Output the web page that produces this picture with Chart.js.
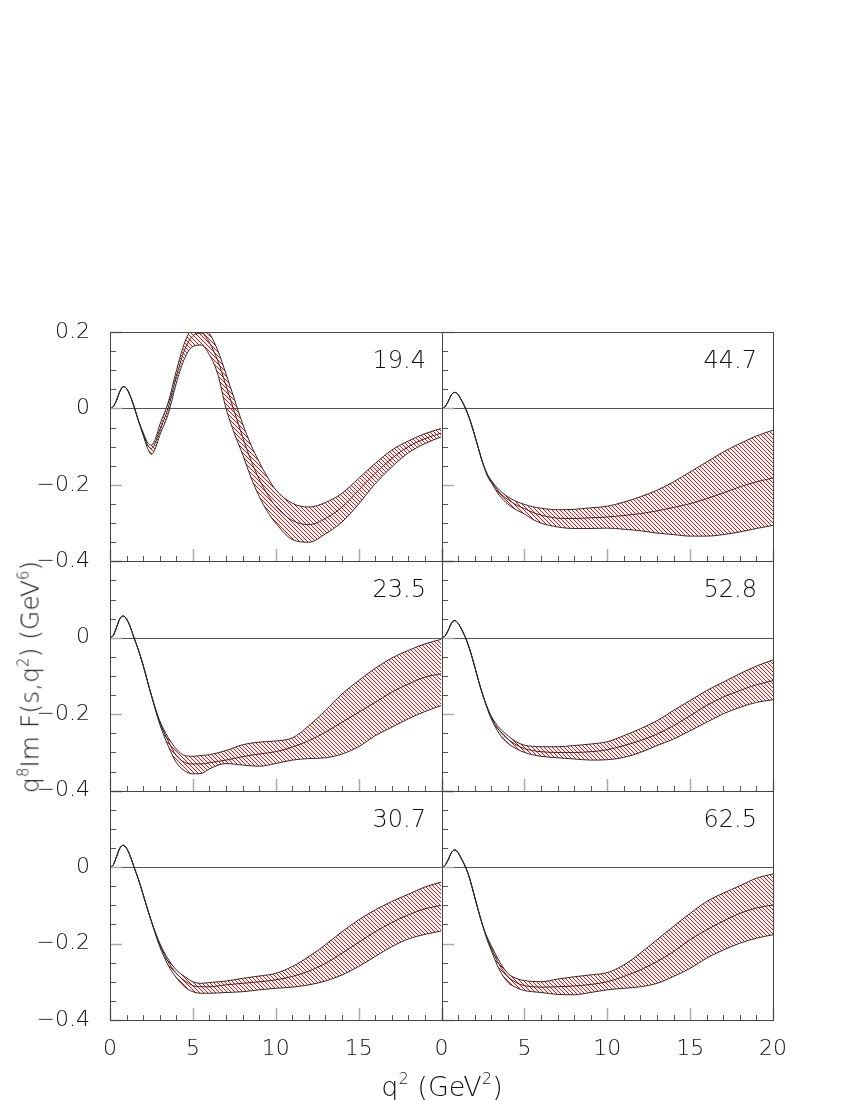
<!DOCTYPE html>
<html>
<head>
<meta charset="utf-8">
<script src="https://cdn.jsdelivr.net/npm/chart.js@4/dist/chart.umd.min.js"></script>
<style>
  html, body { margin: 0; padding: 0; background: #fff; }
  #wrap { position: relative; width: 850px; height: 1100px; overflow: hidden; }
  #chart { position: absolute; left: 0; top: 0; }
  .ttl { position: absolute; white-space: nowrap; font-family: 'DejaVu Sans', sans-serif; font-weight: 200; color: #111; line-height: 1; z-index: 2; }
  .ttl sup { font-size: 0.6em; vertical-align: 0.7em; line-height: 0; }
</style>
</head>
<body>
<div id="wrap">
  <canvas id="chart" width="850" height="1100" style="width:850px;height:1100px"></canvas>
  <div class="ttl" id="ytitle">q<sup>8</sup>Im F(s,q<sup>2</sup>) (GeV<sup>6</sup>)</div>
  <div class="ttl" id="xtitle">q<sup>2</sup> (GeV<sup>2</sup>)</div>
</div>
<script>
// ---------------- data ----------------
const panelLabels = ['19.4', '44.7', '23.5', '52.8', '30.7', '62.5'];

// q^2 grid used for the 19.4 panel
const q2A = [0,0.2,0.4,0.6,0.8,1.0,1.2,1.45,1.7,2.0,2.25,2.5,2.75,3.0,3.5,4.0,4.5,5.0,5.5,6.0,6.5,7.0,7.5,8.0,8.5,9.0,9.5,10,11,12,13,14,15,16,17,18,19,20];
// q^2 grid used for the other panels
const q2B = [0,0.2,0.4,0.6,0.8,1.0,1.2,1.45,1.7,2.0,2.25,2.5,2.75,3.0,3.5,4.0,4.5,5.0,5.5,6.0,7,8,9,10,11,12,13,14,15,16,17,18,19,20];

const mid194 = [0,0.005,0.022,0.045,0.057,0.052,0.035,0.005,-0.03,-0.066,-0.094,-0.105,-0.088,-0.057,0.0,0.083,0.153,0.19,0.197,0.172,0.125,0.06,-0.008,-0.075,-0.135,-0.185,-0.225,-0.256,-0.293,-0.304,-0.288,-0.258,-0.214,-0.17,-0.131,-0.10,-0.079,-0.064];
const hi194  = [0,0.005,0.022,0.045,0.057,0.052,0.035,0.005,-0.03,-0.063,-0.088,-0.096,-0.078,-0.043,0.014,0.098,0.172,0.212,0.218,0.196,0.152,0.09,0.025,-0.04,-0.095,-0.14,-0.18,-0.213,-0.248,-0.258,-0.246,-0.222,-0.183,-0.144,-0.109,-0.085,-0.066,-0.052];
const lo194  = [0,0.005,0.022,0.045,0.057,0.052,0.035,0.005,-0.03,-0.07,-0.102,-0.12,-0.103,-0.07,-0.016,0.066,0.131,0.162,0.166,0.14,0.09,0.0,-0.065,-0.12,-0.18,-0.23,-0.27,-0.3,-0.343,-0.35,-0.328,-0.297,-0.25,-0.197,-0.153,-0.116,-0.092,-0.074];

const mid447 = [0,0.004,0.018,0.036,0.042,0.036,0.022,0.0,-0.028,-0.07,-0.108,-0.144,-0.172,-0.19,-0.22,-0.238,-0.252,-0.262,-0.272,-0.279,-0.287,-0.288,-0.286,-0.284,-0.28,-0.275,-0.268,-0.259,-0.249,-0.236,-0.221,-0.205,-0.192,-0.182];
const hi447  = [0,0.004,0.018,0.036,0.042,0.036,0.022,0.0,-0.028,-0.07,-0.108,-0.144,-0.170,-0.188,-0.214,-0.231,-0.243,-0.251,-0.257,-0.261,-0.265,-0.264,-0.26,-0.256,-0.245,-0.231,-0.214,-0.192,-0.166,-0.14,-0.114,-0.092,-0.072,-0.057];
const lo447  = [0,0.004,0.018,0.036,0.042,0.036,0.022,0.0,-0.028,-0.07,-0.108,-0.144,-0.175,-0.194,-0.228,-0.25,-0.265,-0.276,-0.29,-0.3,-0.31,-0.314,-0.314,-0.313,-0.316,-0.32,-0.326,-0.33,-0.334,-0.334,-0.33,-0.323,-0.314,-0.306];

const mid235 = [0,0.006,0.028,0.05,0.057,0.049,0.031,0.0,-0.03,-0.072,-0.112,-0.151,-0.188,-0.221,-0.269,-0.308,-0.326,-0.33,-0.33,-0.327,-0.32,-0.311,-0.304,-0.298,-0.286,-0.269,-0.247,-0.221,-0.195,-0.169,-0.142,-0.121,-0.103,-0.094];
const hi235  = [0,0.006,0.028,0.05,0.057,0.049,0.031,0.0,-0.03,-0.072,-0.112,-0.151,-0.186,-0.217,-0.26,-0.291,-0.308,-0.31,-0.308,-0.306,-0.295,-0.28,-0.273,-0.27,-0.262,-0.23,-0.19,-0.147,-0.112,-0.08,-0.053,-0.033,-0.016,-0.004];
const lo235  = [0,0.006,0.028,0.05,0.057,0.049,0.031,0.0,-0.03,-0.072,-0.112,-0.151,-0.19,-0.226,-0.282,-0.326,-0.348,-0.356,-0.355,-0.343,-0.329,-0.333,-0.336,-0.329,-0.32,-0.316,-0.314,-0.304,-0.285,-0.256,-0.234,-0.212,-0.193,-0.177];

const mid528 = [0,0.004,0.019,0.038,0.045,0.038,0.023,0.0,-0.03,-0.075,-0.115,-0.151,-0.182,-0.208,-0.243,-0.265,-0.28,-0.29,-0.295,-0.298,-0.30,-0.30,-0.298,-0.293,-0.282,-0.269,-0.252,-0.23,-0.204,-0.177,-0.155,-0.138,-0.123,-0.112];
const hi528  = [0,0.004,0.019,0.038,0.045,0.038,0.023,0.0,-0.03,-0.075,-0.115,-0.151,-0.18,-0.205,-0.236,-0.256,-0.272,-0.281,-0.284,-0.285,-0.285,-0.282,-0.278,-0.272,-0.256,-0.238,-0.217,-0.19,-0.164,-0.138,-0.116,-0.094,-0.074,-0.058];
const lo528  = [0,0.004,0.019,0.038,0.045,0.038,0.023,0.0,-0.03,-0.075,-0.115,-0.151,-0.184,-0.212,-0.252,-0.276,-0.29,-0.30,-0.306,-0.31,-0.314,-0.317,-0.32,-0.319,-0.313,-0.30,-0.282,-0.265,-0.243,-0.221,-0.199,-0.182,-0.169,-0.162];

const mid307 = [0,0.006,0.028,0.05,0.057,0.049,0.031,0.0,-0.03,-0.072,-0.108,-0.142,-0.174,-0.203,-0.247,-0.278,-0.297,-0.31,-0.313,-0.313,-0.308,-0.304,-0.30,-0.295,-0.286,-0.272,-0.252,-0.225,-0.197,-0.169,-0.145,-0.125,-0.109,-0.10];
const hi307  = [0,0.006,0.028,0.05,0.057,0.049,0.031,0.0,-0.03,-0.072,-0.108,-0.142,-0.172,-0.199,-0.24,-0.269,-0.286,-0.30,-0.304,-0.302,-0.298,-0.291,-0.285,-0.278,-0.26,-0.234,-0.203,-0.169,-0.138,-0.112,-0.09,-0.071,-0.052,-0.039];
const lo307  = [0,0.006,0.028,0.05,0.057,0.049,0.031,0.0,-0.03,-0.072,-0.108,-0.142,-0.177,-0.208,-0.256,-0.289,-0.313,-0.326,-0.33,-0.33,-0.328,-0.326,-0.321,-0.317,-0.314,-0.308,-0.298,-0.282,-0.26,-0.234,-0.208,-0.188,-0.176,-0.167];

const mid625 = [0,0.004,0.019,0.038,0.045,0.038,0.022,0.0,-0.03,-0.078,-0.118,-0.155,-0.186,-0.212,-0.256,-0.286,-0.302,-0.31,-0.313,-0.314,-0.313,-0.311,-0.307,-0.30,-0.286,-0.269,-0.247,-0.221,-0.19,-0.164,-0.141,-0.121,-0.107,-0.099];
const hi625  = [0,0.004,0.019,0.038,0.045,0.038,0.022,0.0,-0.03,-0.078,-0.118,-0.155,-0.183,-0.205,-0.247,-0.278,-0.291,-0.297,-0.299,-0.30,-0.293,-0.287,-0.282,-0.276,-0.256,-0.225,-0.19,-0.155,-0.121,-0.09,-0.068,-0.049,-0.029,-0.018];
const lo625  = [0,0.004,0.019,0.038,0.045,0.038,0.022,0.0,-0.03,-0.078,-0.118,-0.155,-0.19,-0.218,-0.269,-0.301,-0.315,-0.323,-0.326,-0.328,-0.333,-0.334,-0.328,-0.321,-0.317,-0.313,-0.304,-0.286,-0.265,-0.238,-0.217,-0.199,-0.186,-0.177];

const yTickValues = [-0.4, -0.2, 0, 0.2];
const xTickValues = [0, 5, 10, 15, 20];

// panels in reading order
const panels = [
  { label: panelLabels[0], x: q2A, mid: mid194, hi: hi194, lo: lo194 },
  { label: panelLabels[1], x: q2B, mid: mid447, hi: hi447, lo: lo447 },
  { label: panelLabels[2], x: q2B, mid: mid235, hi: hi235, lo: lo235 },
  { label: panelLabels[3], x: q2B, mid: mid528, hi: hi528, lo: lo528 },
  { label: panelLabels[4], x: q2B, mid: mid307, hi: hi307, lo: lo307 },
  { label: panelLabels[5], x: q2B, mid: mid625, hi: hi625, lo: lo625 }
];

// ---------------- layout / style ----------------
const FONT = "'DejaVu Sans', sans-serif";
const FONT_WEIGHT = 200;
const HATCH_STEP = 4;
const HATCH_COLOR = '#ff0000';
const X_IDS = ['xL', 'xR'];             // left / right column
const Y_IDS = ['yTop', 'yMid', 'yBot']; // rows

const yt = document.getElementById('ytitle');
yt.style.fontSize = '25px';
yt.style.left = '30px'; yt.style.top = '677px';
yt.style.transform = 'translate(-50%,-50%) rotate(-90deg)';
const xt = document.getElementById('xtitle');
xt.style.fontSize = '27px';
xt.style.left = '442px'; xt.style.top = '1086px';
xt.style.transform = 'translate(-50%,-50%)';

function panelRect(chart, idx) {
  const xs = chart.scales[X_IDS[idx % 2]];
  const ys = chart.scales[Y_IDS[Math.floor(idx / 2)]];
  return { xs, ys, left: xs.left, right: xs.right, top: ys.top, bottom: ys.bottom };
}

// Hatched band between the upper and lower curves of each panel, clipped
// with the line elements that Chart.js computed from the data.
const bandHatch = {
  id: 'bandHatch',
  beforeDatasetsDraw(chart) {
    const ctx = chart.ctx;
    panels.forEach((p, idx) => {
      const a = panelRect(chart, idx);
      const hiEl = chart.getDatasetMeta(idx * 3).dataset;
      const loEl = chart.getDatasetMeta(idx * 3 + 1).dataset;
      const hiPts = hiEl.points, loPts = loEl.points;
      // zero line
      ctx.save();
      const y0 = Math.round(a.ys.getPixelForValue(0)) + 0.5;
      ctx.strokeStyle = '#555'; ctx.lineWidth = 1;
      ctx.beginPath(); ctx.moveTo(a.left, y0); ctx.lineTo(a.right, y0); ctx.stroke();
      ctx.restore();

      ctx.save();
      ctx.beginPath(); ctx.rect(a.left, a.top, a.right - a.left, a.bottom - a.top); ctx.clip();
      ctx.beginPath();
      hiEl.path(ctx);
      ctx.lineTo(hiPts[hiPts.length - 1].x, a.bottom + 500);
      ctx.lineTo(hiPts[0].x, a.bottom + 500);
      ctx.closePath();
      ctx.clip();
      ctx.beginPath();
      loEl.path(ctx);
      ctx.lineTo(loPts[loPts.length - 1].x, a.top - 500);
      ctx.lineTo(loPts[0].x, a.top - 500);
      ctx.closePath();
      ctx.clip();
      // crisp one-pixel diagonal staircase lines
      const L = Math.round(a.left), R = Math.round(a.right);
      const T = Math.round(a.top), B = Math.round(a.bottom);
      ctx.fillStyle = HATCH_COLOR;
      ctx.beginPath();
      for (let y = T; y < B; y++) {
        const off = ((y - T) % HATCH_STEP);
        for (let x = L + off; x < R; x += HATCH_STEP) ctx.rect(x, y, 1, 1);
      }
      ctx.fill();
      ctx.restore();
    });
  }
};

// keep every curve inside its own panel
const panelClip = {
  id: 'panelClip',
  beforeDatasetDraw(chart, args) {
    const a = panelRect(chart, Math.floor(args.index / 3));
    chart.ctx.save();
    chart.ctx.beginPath();
    chart.ctx.rect(a.left, a.top, a.right - a.left, a.bottom - a.top);
    chart.ctx.clip();
  },
  afterDatasetDraw(chart) { chart.ctx.restore(); }
};

const panelDeco = {
  id: 'panelDeco',
  afterDatasetsDraw(chart) {
    const ctx = chart.ctx;
    panels.forEach((p, idx) => {
      const a = panelRect(chart, idx);
      const L = Math.round(a.left), R = Math.round(a.right), T = Math.round(a.top), B = Math.round(a.bottom);
      ctx.save();
      for (let k = -8; k <= 4; k++) {
        const y = Math.round(a.ys.getPixelForValue(k * 0.05)) + 0.5;
        const major = (k % 4 === 0);
        ctx.strokeStyle = major ? '#aaa' : '#555';
        ctx.lineWidth = major ? 1.5 : 1;
        ctx.beginPath(); ctx.moveTo(L, y); ctx.lineTo(L + (major ? 12 : 6), y); ctx.stroke();
      }
      for (let k = 0; k <= 20; k++) {
        const x = Math.round(a.xs.getPixelForValue(k)) + 0.5;
        const major = (k % 5 === 0);
        ctx.strokeStyle = major ? '#aaa' : '#555';
        ctx.lineWidth = major ? 1.5 : 1;
        ctx.beginPath(); ctx.moveTo(x, B); ctx.lineTo(x, B - (major ? 12 : 5)); ctx.stroke();
      }
      ctx.strokeStyle = '#444';
      ctx.lineWidth = 1;
      ctx.strokeRect(L + 0.5, T + 0.5, R - L, B - T);
      ctx.fillStyle = '#111';
      ctx.font = FONT_WEIGHT + ' 24px ' + FONT;
      ctx.textAlign = 'right';
      ctx.textBaseline = 'middle';
      ctx.fillText(p.label, R - 16, T + 30);
      ctx.restore();
    });
  }
};

function fmtY(v, row) {
  const r = Math.round(v * 10) / 10;
  if (row > 0 && r === 0.2) return '';
  if (r === 0) return '0';
  return r < 0 ? '\u2212' + Math.abs(r).toFixed(1) : r.toFixed(1);
}

function xScale(col) {
  return {
    type: 'linear', position: 'bottom', stack: 'cols', stackWeight: 1, min: 0, max: 20,
    grid: { display: false }, border: { display: false },
    afterBuildTicks: s => { s.ticks = xTickValues.map(v => ({ value: v })); },
    ticks: {
      padding: 8, color: '#111', maxRotation: 0, autoSkip: false,
      font: { family: FONT, size: 22, weight: FONT_WEIGHT },
      callback: v => (col === 0 && v === 20) ? '' : String(v)
    },
    afterFit: s => { s.height = 80; }
  };
}
function yScale(row) {
  return {
    type: 'linear', position: 'left', stack: 'rows', stackWeight: 1, min: -0.4, max: 0.2,
    grid: { display: false }, border: { display: false },
    afterBuildTicks: s => { s.ticks = yTickValues.map(v => ({ value: v })); },
    ticks: {
      padding: 12, color: '#111', autoSkip: false,
      font: { family: FONT, size: 22, weight: FONT_WEIGHT },
      callback: v => fmtY(v, row)
    },
    afterFit: s => { s.width = 110; }
  };
}

const datasets = [];
const lineStyle = { borderColor: '#2a2a2a', borderWidth: 1, pointRadius: 0, cubicInterpolationMode: 'monotone', fill: false };
panels.forEach((p, idx) => {
  const ids = { xAxisID: X_IDS[idx % 2], yAxisID: Y_IDS[Math.floor(idx / 2)] };
  const pts = arr => p.x.map((q, i) => ({ x: q, y: arr[i] }));
  datasets.push(Object.assign({ data: pts(p.hi) }, lineStyle, ids));
  datasets.push(Object.assign({ data: pts(p.lo) }, lineStyle, ids));
  datasets.push(Object.assign({ data: pts(p.mid) }, lineStyle, ids));
});

// scales listed so that the left stack is placed top -> bottom as yTop, yMid, yBot
const scales = {};
scales.xL = xScale(0);
scales.xR = xScale(1);
scales.yBot = yScale(2);
scales.yMid = yScale(1);
scales.yTop = yScale(0);

new Chart(document.getElementById('chart'), {
  type: 'line',
  data: { datasets },
  options: {
    responsive: false,
    animation: false,
    devicePixelRatio: 1,
    layout: { padding: { top: 332, right: 77, left: 0, bottom: 0 } },
    scales,
    plugins: { legend: { display: false }, tooltip: { enabled: false } }
  },
  plugins: [bandHatch, panelClip, panelDeco]
});
</script>
</body>
</html>
